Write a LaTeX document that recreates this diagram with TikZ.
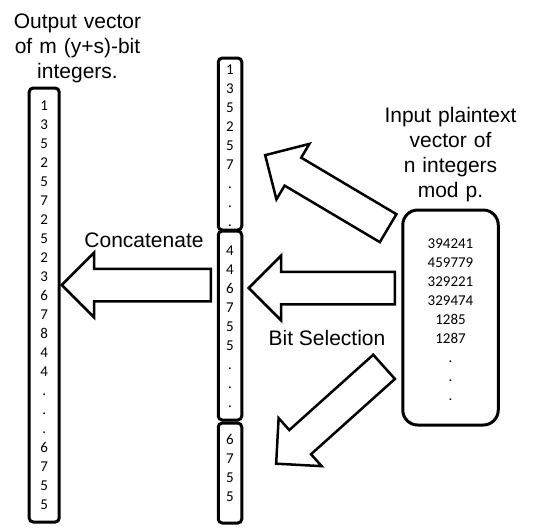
\documentclass[tikz,border=0pt]{standalone}
\usepackage{fontspec}
\setmainfont{Liberation Sans}
\newfontfamily\numfont{Carlito}
\usepackage{tikz}
\usetikzlibrary{shapes.arrows}

\tikzset{
  vecbox/.style={draw, line width=3pt, rounded corners=4pt, inner sep=0pt,
    anchor=base, align=center, font=\numfont\fontsize{15}{19}\selectfont},
  caption/.style={anchor=base, align=center, inner sep=0pt,
    font=\fontsize{21}{25}\selectfont},
  bigarrow/.style={single arrow, draw, line width=2.5pt, inner sep=0pt,
    text height=15pt, text depth=15pt, single arrow head extend=16pt,
    single arrow tip angle=90, anchor=tail}
}

\begin{document}
\begin{tikzpicture}[x=1pt, y=-1pt]
  \useasboundingbox (0,0) rectangle (537,528);
  % titles
  \node[caption, text width=160pt] (outtitle) at (77.5,28) {Output vector\\of m (y+s)-bit\\integers.};
  \node[caption, text width=160pt] (intitle) at (450.5,122) {Input plaintext\\vector of\\n integers\\mod p.};
  \node[caption] (catlbl) at (144,247) {Concatenate};
  \node[caption] (sellbl) at (327,345) {Bit Selection};
  % vectors
  \node[vecbox, text width=30pt, text height=22pt, text depth=412pt] (outvec) at (44.2,110)
    {1\\3\\5\\2\\5\\7\\2\\5\\2\\3\\6\\7\\8\\4\\4\\.\\.\\.\\6\\7\\5\\5};
  \node[vecbox, text width=23.5pt, text height=16pt, text depth=156pt] (partA) at (230,74)
    {1\\3\\5\\2\\5\\7\\.\\.\\.};
  \node[vecbox, text width=23.5pt, text height=24pt, text depth=165pt] (partB) at (230,255)
    {4\\4\\6\\7\\5\\5\\.\\.\\.};
  \node[vecbox, text width=23.5pt, text height=21pt, text depth=79pt] (partC) at (230,444)
    {6\\7\\5\\5};
  \node[vecbox, rounded corners=15pt, text width=95.5pt, text height=38pt, text depth=177pt] (invec) at (450.5,248)
    {394241\\459779\\329221\\329474\\1285\\1287\\.\\.\\.};
  % arrows, placed by their tails
  \node[bigarrow, minimum height=149pt, rotate=180] (catarrow) at (212,285) {};
  \node[bigarrow, minimum height=146pt, rotate=180] (selB) at (396,288) {};
  \node[bigarrow, minimum height=143pt, rotate=149.3] (selA) at (389.2,228.8) {};
  \node[bigarrow, minimum height=145pt, rotate=221.9] (selC) at (385,366) {};
\end{tikzpicture}
\end{document}
